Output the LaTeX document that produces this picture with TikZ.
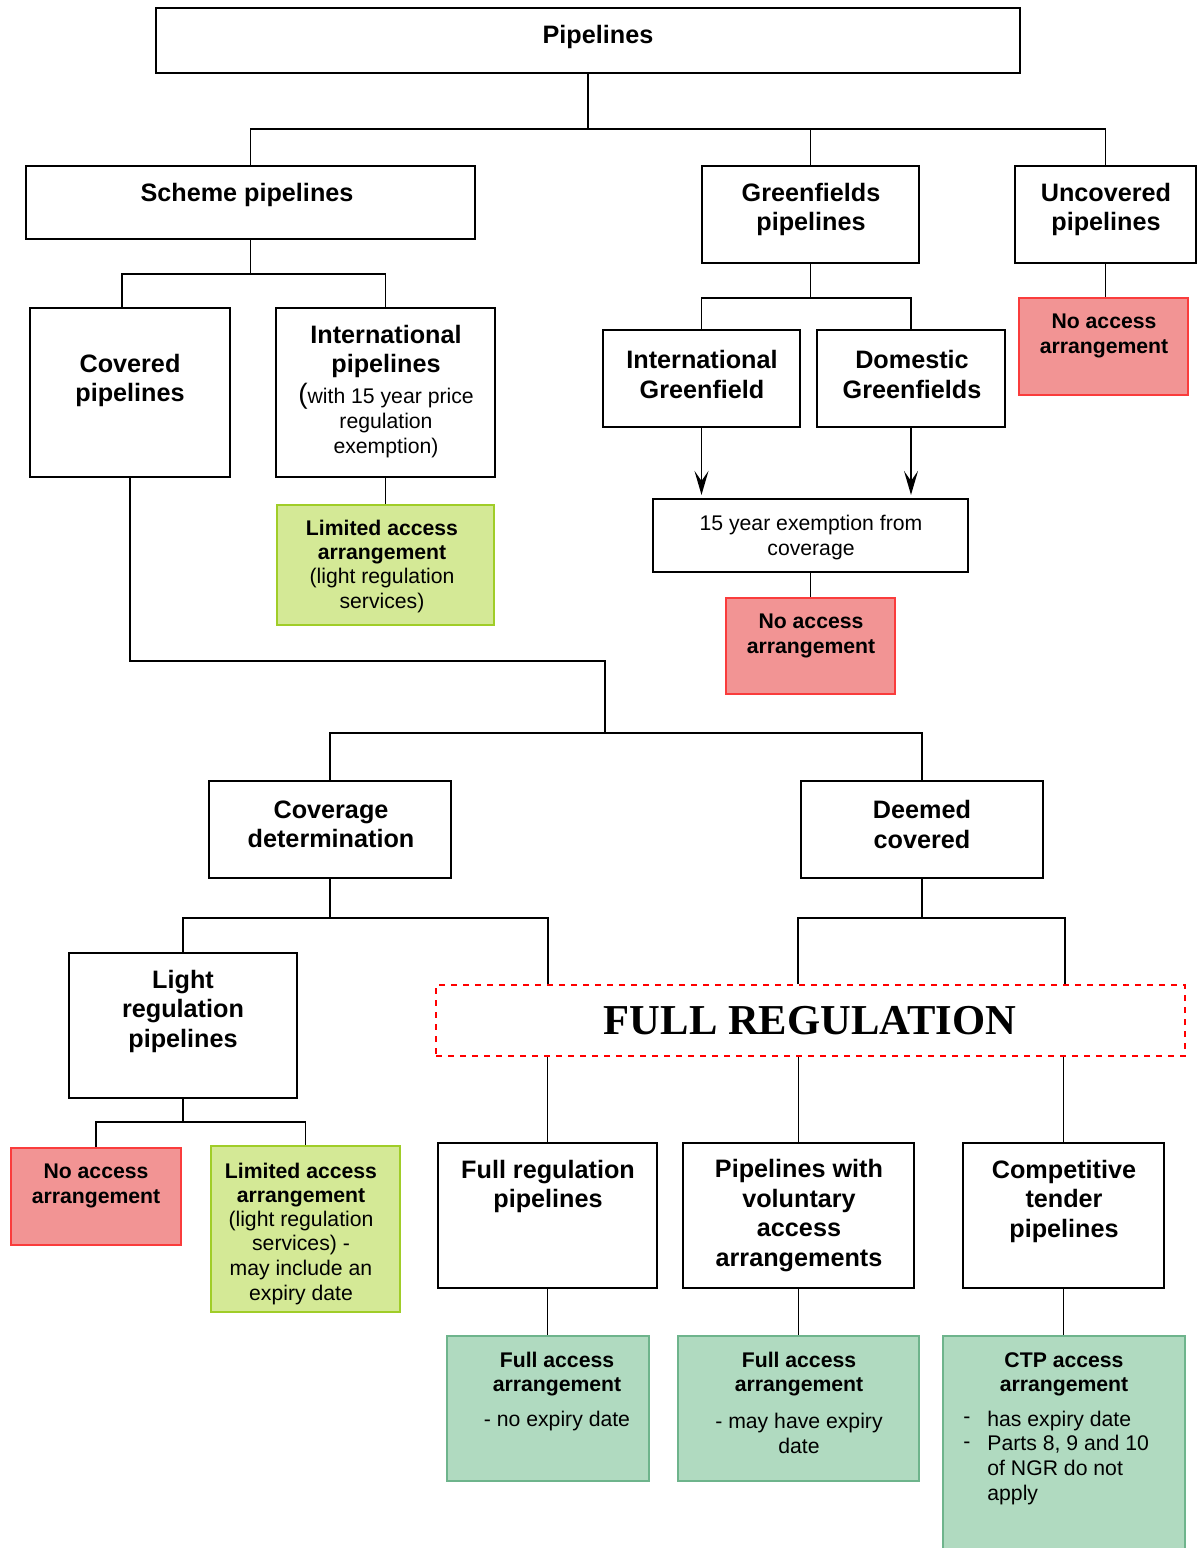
\documentclass[tikz,border=0pt]{standalone}
\usepackage{fontspec}
\setmainfont{Liberation Sans}
\newfontfamily\timesfont{Liberation Serif}
\usetikzlibrary{fit,arrows.meta}
\definecolor{redfill}{RGB}{242,148,148}
\definecolor{redline}{RGB}{250,60,60}
\definecolor{grnfill}{RGB}{212,233,150}
\definecolor{grnline}{RGB}{160,205,40}
\definecolor{tealfill}{RGB}{176,218,192}
\definecolor{tealline}{RGB}{110,180,140}
\tikzset{
  box/.style={draw=black, line width=1.1pt, inner sep=0pt},
  redbox/.style={draw=redline, fill=redfill, line width=0.8pt, inner sep=0pt},
  grnbox/.style={draw=grnline, fill=grnfill, line width=0.8pt, inner sep=0pt},
  tealbox/.style={draw=tealline, fill=tealfill, line width=0.8pt, inner sep=0pt},
  con/.style={draw=black, line width=0.9pt},
  arr/.style={con, -{Stealth[length=12pt, width=7pt, inset=5pt]}},
  bt/.style={font=\bfseries\fontsize{12.6}{14.8}\selectfont, align=center, inner sep=0pt, yshift=-1.2pt},
  sbt/.style={font=\bfseries\fontsize{10.6}{12.1}\selectfont, align=center, inner sep=0pt, yshift=-1pt},
  st/.style={font=\fontsize{10.6}{12.3}\selectfont, align=center, inner sep=0pt, yshift=-0.8pt},
}
\begin{document}
\begin{tikzpicture}[x=0.5pt, y=-0.5pt]
\useasboundingbox (0,0) rectangle (1198,1548);
\fill[white] (0,0) rectangle (1198,1548);

% ---------- boxes ----------
\node[box, fit={(156,8) (1020,73)}] (pip) {};
\node[bt] (tpip) at (598,35) {Pipelines};

\node[box, fit={(26,166) (475,239)}] (scheme) {};
\node[bt] (tscheme) at (247,193) {Scheme pipelines};

\node[box, fit={(702,166) (919,263)}] (green) {};
\node[bt] (tgreen) at (811,207) {Greenfields\\pipelines};

\node[box, fit={(1015,166) (1196,263)}] (unc) {};
\node[bt] (tunc) at (1106,207) {Uncovered\\pipelines};

\node[box, fit={(30,308) (230,477)}] (cov) {};
\node[bt] (tcov) at (130,378) {Covered\\pipelines};

\node[box, fit={(276,308) (495,477)}] (intl) {};
\node[bt] (tintl) at (386,349) {International\\pipelines};
\node[st] (tintl2) at (386,419) {{\fontsize{14}{12}\selectfont(}with 15 year price\\regulation\\exemption)};

\node[grnbox, fit={(277,505) (494,625)}] (lim1) {};
\node[sbt] (tlim1) at (382,540) {Limited access\\arrangement};
\node[st] (tlim1b) at (382,589) {(light regulation\\services)};

\node[box, fit={(603,330) (800,427)}] (igf) {};
\node[bt] (tigf) at (702,372) {International\\Greenfield};

\node[box, fit={(817,330) (1005,427)}] (dgf) {};
\node[bt] (tdgf) at (912,372) {Domestic\\Greenfields};

\node[box, fit={(653,499) (968,572)}] (exm) {};
\node[st] (texm) at (811,536) {15 year exemption from\\coverage};

\node[redbox, fit={(726,598) (895,694)}] (no1) {};
\node[sbt] (tno1) at (811,634) {No access\\arrangement};

\node[redbox, fit={(1019,298) (1188,395)}] (no0) {};
\node[sbt] (tno0) at (1104,334) {No access\\arrangement};

\node[box, fit={(209,781) (451,878)}] (covdet) {};
\node[bt] (tcovdet) at (331,822) {Coverage\\determination};

\node[box, fit={(801,781) (1043,878)}] (deem) {};
\node[bt] (tdeem) at (922,822) {Deemed\\covered};

\node[box, fit={(69,953) (297,1098)}] (light) {};
\node[bt] (tlight) at (183,1009) {Light\\regulation\\pipelines};

\node[redbox, fit={(11,1148) (181,1245)}] (no2) {};
\node[sbt] (tno2) at (96,1184) {No access\\arrangement};

\node[grnbox, fit={(211,1146) (400,1312)}] (lim2) {};
\node[sbt] (tlim2) at (301,1183) {Limited access\\arrangement};
\node[st] (tlim2b) at (301,1256) {(light regulation\\services) -\\may include an\\expiry date};

\node[draw=red, dashed, line width=0.8pt, inner sep=0pt, fit={(436,985) (1185,1056)}] (full) {};
\node[font=\timesfont\bfseries\fontsize{21.3}{24}\selectfont, inner sep=0pt, yshift=-0.5pt] (tfull) at (810,1020) {FULL REGULATION};

\node[box, fit={(438,1143) (657,1288)}] (frp) {};
\node[bt] (tfrp) at (548,1184) {Full regulation\\pipelines};

\node[box, fit={(683,1143) (914,1288)}] (vol) {};
\node[bt] (tvol) at (799,1213) {Pipelines with\\voluntary\\access\\arrangements};

\node[box, fit={(963,1143) (1164,1288)}] (ctp) {};
\node[bt] (tctp) at (1064,1199) {Competitive\\tender\\pipelines};

\node[tealbox, fit={(447,1336) (649,1481)}] (fa1) {};
\node[sbt] (tfa1) at (557,1372) {Full access\\arrangement};
\node[st] (tfa1b) at (557,1419) {- no expiry date};

\node[tealbox, fit={(678,1336) (919,1481)}] (fa2) {};
\node[sbt] (tfa2) at (799,1372) {Full access\\arrangement};
\node[st] (tfa2b) at (799,1432) {- may have expiry\\date};

\node[tealbox, fit={(943,1336) (1185,1570)}] (fa3) {};
\node[sbt] (tfa3) at (1064,1372) {CTP access\\arrangement};
\node[st] (d1) at (967,1419) {-};
\node[st] (d2) at (967,1444) {-};
\node[st, align=left, anchor=west] (tfa3b) at (987,1456) {has expiry date\\Parts 8, 9 and 10\\of NGR do not\\apply};

% ---------- junction coordinates ----------
\coordinate (j1) at (588,129);
\coordinate (j2) at (250,274);
\coordinate (c122) at (122,274);
\coordinate (j3) at (810,298);
\coordinate (k1) at (605,661);
\coordinate (j4) at (605,733);
\coordinate (j5) at (331,918);
\coordinate (f1) at (548,918);
\coordinate (j6) at (922,918);
\coordinate (f2) at (798,918);
\coordinate (f3) at (1065,918);
\coordinate (j7) at (183,1122);

% ---------- connectors ----------
\draw[con] (pip.south -| j1) -- (j1);
\draw[con] (scheme.north) -- (scheme.north |- j1) -- (unc.north |- j1) -- (unc.north);
\draw[con] (green.north |- j1) -- (green.north);

\draw[con] (scheme.south) -- (scheme.south |- j2);
\draw[con] (c122 |- cov.north) -- (c122) -- (intl.north |- j2) -- (intl.north);
\draw[con] (intl.south) -- (lim1.north);

\draw[con] (green.south) -- (green.south |- j3);
\draw[con] (igf.north) -- (igf.north |- j3) -- (dgf.north |- j3) -- (dgf.north);
\draw[arr, shorten >=1.5pt] (igf.south) -- (igf.south |- exm.north);
\draw[arr, shorten >=1.5pt] (dgf.south) -- (dgf.south |- exm.north);
\draw[con] (exm.south) -- (no1.north);
\draw[con] (unc.south) -- (unc.south |- no0.north);

\draw[con] (cov.south) |- (k1) -- (j4);
\draw[con] (covdet.north) -- (covdet.north |- j4) -- (deem.north |- j4) -- (deem.north);

\draw[con] (covdet.south) -- (covdet.south |- j5);
\draw[con] (light.north) -- (light.north |- f1) -- (f1) -- (f1 |- full.north);
\draw[con] (deem.south) -- (j6);
\draw[con] (f2 |- full.north) -- (f2) -- (f3) -- (f3 |- full.north);

\draw[con] (light.south) -- (j7);
\draw[con] (no2.north) -- (no2.north |- j7) -- (lim2.north |- j7) -- (lim2.north);

\draw[con] (frp.north |- full.south) -- (frp.north);
\draw[con] (vol.north |- full.south) -- (vol.north);
\draw[con] (ctp.north |- full.south) -- (ctp.north);

\draw[con] (frp.south) -- (frp.south |- fa1.north);
\draw[con] (vol.south) -- (vol.south |- fa2.north);
\draw[con] (ctp.south) -- (ctp.south |- fa3.north);
\end{tikzpicture}
\end{document}
